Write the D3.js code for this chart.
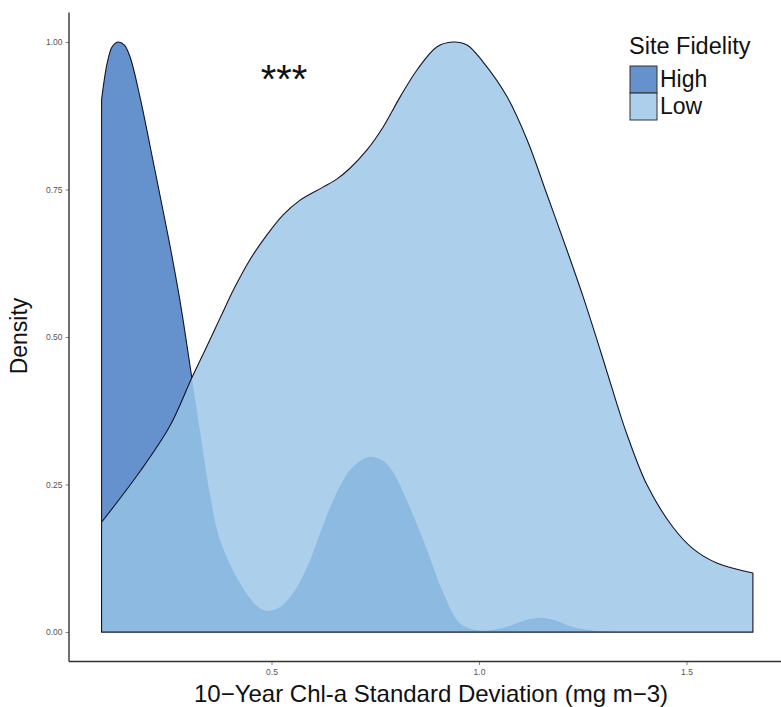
<!DOCTYPE html>
<html>
<head>
<meta charset="utf-8">
<script src="https://cdn.jsdelivr.net/npm/d3@7"></script>
<style>
  html, body { margin: 0; padding: 0; background: #ffffff; }
  svg { display: block; font-family: "Liberation Sans", Arial, Helvetica, sans-serif; }
</style>
</head>
<body>
<svg id="chart" width="781" height="707"></svg>
<script>
// ---------------- data ----------------
const groups = ["High", "Low"];
const groupColors = ["#6592cc", "#97c4e6"];

// Scaled density for the "High" site-fidelity group
const highX = [0.0905, 0.104, 0.116, 0.130, 0.145, 0.159, 0.183, 0.207, 0.231, 0.255,
               0.280, 0.308, 0.328, 0.352, 0.376, 0.424, 0.465, 0.489, 0.520, 0.552,
               0.586, 0.617, 0.649, 0.672, 0.696, 0.737, 0.769, 0.793, 0.834, 0.875,
               0.913, 0.954, 1.000, 1.063, 1.111, 1.147, 1.183, 1.229, 1.300, 1.400,
               1.500, 1.660];
const highD = [0.902, 0.964, 0.992, 1.000, 0.995, 0.975, 0.907, 0.825, 0.741, 0.656,
               0.559, 0.431, 0.339, 0.232, 0.156, 0.083, 0.044, 0.036, 0.042, 0.066,
               0.110, 0.168, 0.224, 0.256, 0.280, 0.297, 0.290, 0.271, 0.210, 0.139,
               0.068, 0.015, 0.003, 0.008, 0.020, 0.024, 0.020, 0.008, 0.001, 0.000,
               0.000, 0.000];

// Scaled density for the "Low" site-fidelity group
const lowX = [0.0905, 0.183, 0.255, 0.308, 0.340, 0.376, 0.412, 0.448, 0.489, 0.528,
              0.569, 0.624, 0.658, 0.689, 0.730, 0.769, 0.810, 0.851, 0.899, 0.937,
              0.971, 1.010, 1.067, 1.116, 1.164, 1.212, 1.251, 1.292, 1.333, 1.357,
              1.405, 1.467, 1.516, 1.573, 1.660];
const lowD = [0.186, 0.272, 0.349, 0.431, 0.478, 0.532, 0.585, 0.631, 0.673, 0.707,
              0.732, 0.754, 0.768, 0.786, 0.817, 0.856, 0.907, 0.953, 0.992, 1.000,
              0.995, 0.966, 0.908, 0.834, 0.741, 0.647, 0.568, 0.478, 0.385, 0.334,
              0.249, 0.178, 0.141, 0.117, 0.100];

const xTicks = [0.5, 1.0, 1.5];
const xTickLabels = ["0.5", "1.0", "1.5"];
const yTicks = [0, 0.25, 0.5, 0.75, 1.0];
const yTickLabels = ["0.00", "0.25", "0.50", "0.75", "1.00"];

const xTitle = "10\u2212Year Chl-a Standard Deviation (mg m\u22123)";
const yTitle = "Density";
const legendTitle = "Site Fidelity";
const annotation = "***";

// ---------------- layout ----------------
const svg = d3.select("#chart");
const panelLeft = 69;
const pxPerUnitX = 415;
const dataMin = d3.min(lowX), dataMax = d3.max(lowX);
const pad = 0.05 * (dataMax - dataMin);
const xDomain = [dataMin - pad, dataMax + pad];

const x = d3.scaleLinear()
  .domain(xDomain)
  .range([panelLeft, panelLeft + (xDomain[1] - xDomain[0]) * pxPerUnitX]);
const y = d3.scaleLinear().domain([-0.05, 1.05]).range([661.5, 12.5]);

const series = [
  { name: groups[0], color: groupColors[0], pts: highX.map((v, i) => [v, highD[i]]), opacity: 1 },
  { name: groups[1], color: groupColors[1], pts: lowX.map((v, i) => [v, lowD[i]]), opacity: 0.8 }
];

const area = d3.area()
  .x(d => x(d[0]))
  .y0(y(0))
  .y1(d => y(Math.max(0, d[1])))
  .curve(d3.curveCatmullRom.alpha(0.5));

// mask: hide the High outline where it lies underneath the Low layer
const defs = svg.append("defs");
const mask = defs.append("mask").attr("id", "outsideLow")
  .attr("maskUnits", "userSpaceOnUse")
  .attr("x", 0).attr("y", 0).attr("width", 781).attr("height", 707);
mask.append("rect").attr("x", 0).attr("y", 0).attr("width", 781).attr("height", 707).attr("fill", "white");
mask.append("path").datum(series[1].pts).attr("d", area).attr("fill", "black");

// High layer
svg.append("path")
  .datum(series[0].pts)
  .attr("d", area)
  .attr("fill", series[0].color);
svg.append("path")
  .datum(series[0].pts)
  .attr("d", area)
  .attr("fill", "none")
  .attr("stroke", "#141428")
  .attr("stroke-width", 1.1)
  .attr("stroke-linejoin", "round")
  .attr("mask", "url(#outsideLow)");

// Low layer (semi-transparent on top)
svg.append("path")
  .datum(series[1].pts)
  .attr("d", area)
  .attr("fill", series[1].color)
  .attr("fill-opacity", series[1].opacity)
  .attr("stroke", "#141428")
  .attr("stroke-width", 1.1)
  .attr("stroke-linejoin", "round");

// ---------------- axes ----------------
const axisColor = "#333333";
const tickTextColor = "#555555";

// y axis
const yAxis = d3.axisLeft(y).tickValues(yTicks)
  .tickFormat((d, i) => yTickLabels[i]).tickSize(3.5).tickPadding(3);
const gy = svg.append("g").attr("transform", `translate(${panelLeft},0)`).call(yAxis);
gy.select(".domain").remove();
gy.selectAll(".tick line").attr("stroke", "#666").attr("stroke-width", 0.8);
gy.selectAll(".tick text").attr("fill", tickTextColor).style("font-size", "8.5px")
  .style("font-family", "Liberation Sans, Arial, sans-serif");
svg.append("line")
  .attr("x1", panelLeft).attr("x2", panelLeft)
  .attr("y1", y(1.05)).attr("y2", y(-0.05))
  .attr("stroke", axisColor).attr("stroke-width", 1.4);

// x axis
const xAxis = d3.axisBottom(x).tickValues(xTicks)
  .tickFormat((d, i) => xTickLabels[i]).tickSize(3.5).tickPadding(4);
const gx = svg.append("g").attr("transform", `translate(0,${y(-0.05)})`).call(xAxis);
gx.select(".domain").remove();
gx.selectAll(".tick line").attr("stroke", "#666").attr("stroke-width", 0.8);
gx.selectAll(".tick text").attr("fill", tickTextColor).style("font-size", "8.5px")
  .style("font-family", "Liberation Sans, Arial, sans-serif");
svg.append("line")
  .attr("x1", panelLeft).attr("x2", x(xDomain[1]))
  .attr("y1", y(-0.05)).attr("y2", y(-0.05))
  .attr("stroke", axisColor).attr("stroke-width", 1.4);

// axis titles
svg.append("text")
  .attr("x", 431).attr("y", 702)
  .attr("text-anchor", "middle")
  .style("font-size", "24px").attr("fill", "#111")
  .text(xTitle);

svg.append("text")
  .attr("transform", `translate(27,336) rotate(-90)`)
  .attr("text-anchor", "middle")
  .style("font-size", "23px").attr("fill", "#111")
  .text(yTitle);

// annotation
svg.append("text")
  .attr("x", 284).attr("y", 93)
  .attr("text-anchor", "middle")
  .style("font-size", "40px").attr("fill", "#111")
  .text(annotation);

// ---------------- legend ----------------
const lg = svg.append("g");
lg.append("text").attr("x", 629).attr("y", 54)
  .style("font-size", "23.5px").attr("fill", "#111").text(legendTitle);
series.forEach((s, i) => {
  const top = 66 + i * 27;
  lg.append("rect")
    .attr("x", 630).attr("y", top).attr("width", 27).attr("height", 27)
    .attr("fill", s.color).attr("fill-opacity", s.opacity)
    .attr("stroke", "#333").attr("stroke-width", 1);
  lg.append("text").attr("x", 660).attr("y", top + 21)
    .style("font-size", "23px").attr("fill", "#111").text(s.name);
});
</script>
</body>
</html>
